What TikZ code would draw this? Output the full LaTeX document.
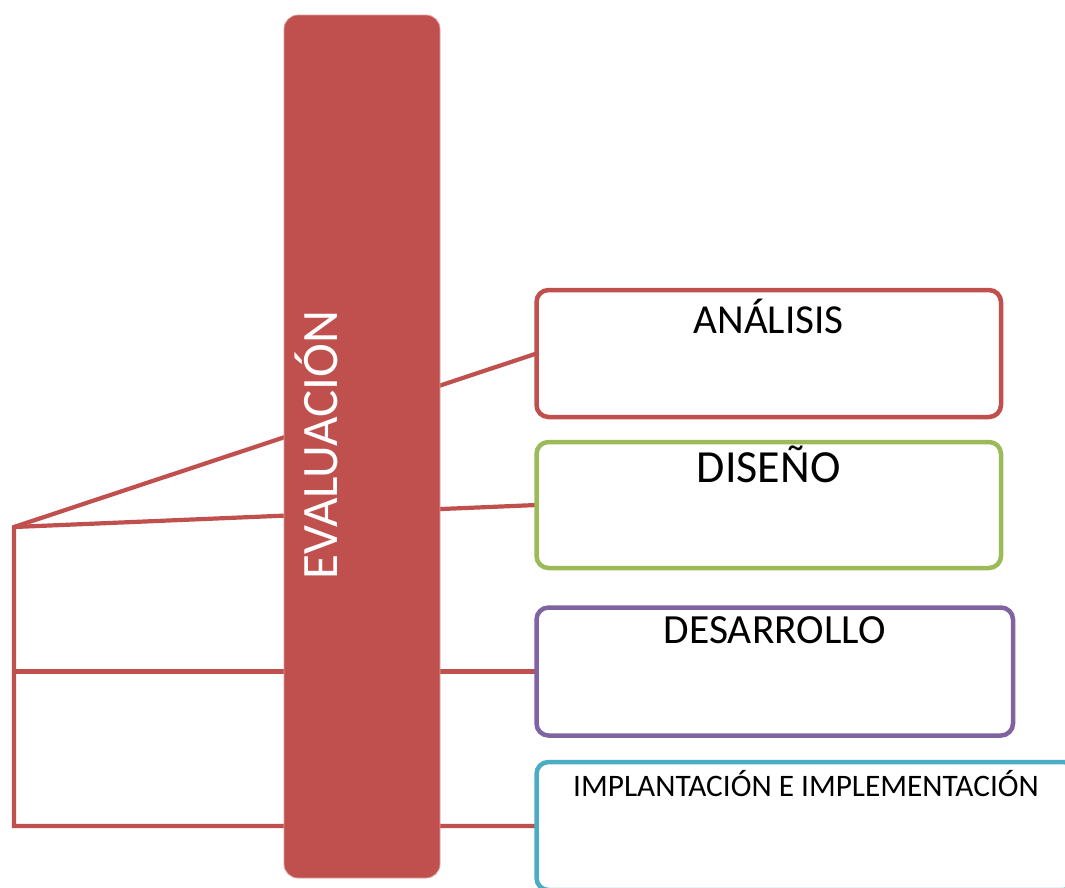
\documentclass[tikz,border=0pt]{standalone}
\usepackage{fontspec}
\setmainfont{Carlito}
\usetikzlibrary{backgrounds}
\definecolor{accred}{HTML}{C0504D}
\definecolor{accgreen}{HTML}{9BBB59}
\definecolor{accpurple}{HTML}{8064A2}
\definecolor{acccyan}{HTML}{4BACC6}
\begin{document}
\begin{tikzpicture}[x=1pt,y=-1pt,
  boxstyle/.style={draw, line width=4.5pt, rounded corners=12pt, fill=white,
    inner sep=0pt, outer sep=0pt, anchor=north west},
  conn/.style={draw=accred, line width=4.2pt, line join=miter},
  lbl/.style={anchor=base, inner sep=0pt, text=black}]
\useasboundingbox (0,0) rectangle (1065,887);
\clip (0,0) rectangle (1065,887);
% boxes
\node[boxstyle, draw=accred, minimum width=464.5pt, minimum height=127pt] (ana) at (536.5,290) {};
\node[boxstyle, draw=accgreen, minimum width=464.5pt, minimum height=126pt] (dis) at (536.5,442) {};
\node[boxstyle, draw=accpurple, minimum width=476.5pt, minimum height=128pt] (des) at (536.5,607.5) {};
\node[boxstyle, draw=acccyan, minimum width=539pt, minimum height=128pt] (imp) at (536.5,762) {};
% box texts
\node[lbl, font=\fontsize{41.2}{48}\selectfont] (anat) at (768.75,333.3) {ANÁLISIS};
\node[lbl, font=\fontsize{46}{54}\selectfont] (dist) at (768.75,482.3) {DISEÑO};
\node[lbl, font=\fontsize{41.5}{48}\selectfont] (dest) at (774.75,643.3) {DESARROLLO};
\node[lbl, font=\fontsize{31.3}{36}\selectfont] (impt) at (806,796.7) {IMPLANTACIÓN E IMPLEMENTACIÓN};
% connectors
\coordinate (hub) at (14,527);
\begin{scope}[on background layer]
  \draw[conn] (ana.west) -- (hub) |- (imp.west);
  \draw[conn] (hub) -- (dis.west);
  \draw[conn] (hub |- des.west) -- (des.west);
\end{scope}
% central bar
\node[fill=accred, draw=accred!55!white, line width=0.8pt, rounded corners=14pt,
  minimum width=156pt, minimum height=863pt, inner sep=0pt, outer sep=0pt,
  anchor=north west] (bar) at (284,15) {};
\node[rotate=90, anchor=base, text=white, inner sep=0pt,
  font=\fontsize{51}{60}\selectfont] (evl) at (337.5,445) {EVALUACIÓN};
\end{tikzpicture}
\end{document}
